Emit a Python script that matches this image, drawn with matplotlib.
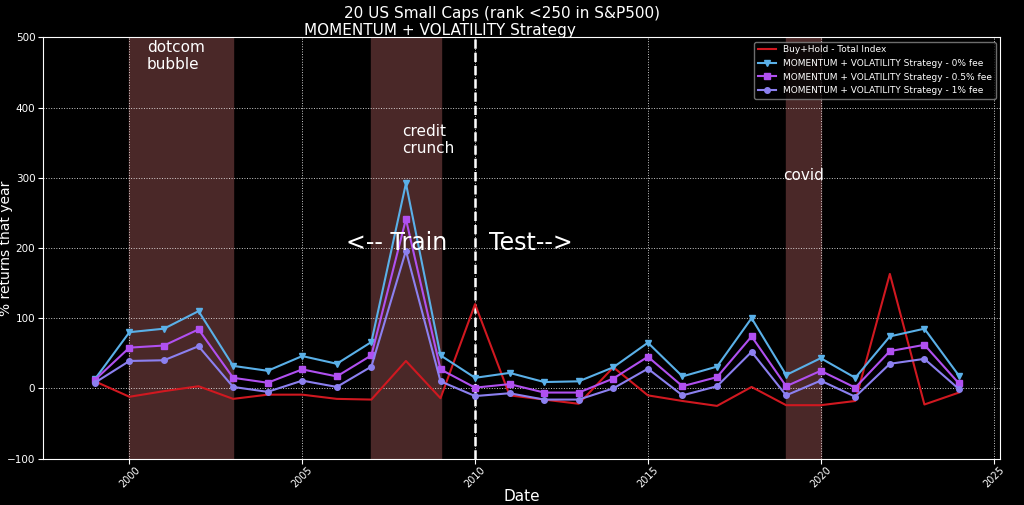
import matplotlib
matplotlib.use('Agg')
import matplotlib.pyplot as plt

# data
years = list(range(1999, 2025))
fee0 = [13, 80, 85, 110, 32, 25, 46, 35, 66, 292, 47, 15, 22, 9, 10, 30, 65, 17, 31, 100, 19, 43, 15, 74, 85, 18]
fee05 = [12, 58, 61, 84, 15, 8, 27, 17, 47, 241, 27, 1, 6, -6, -6, 14, 45, 3, 16, 74, 3, 25, 1, 53, 62, 7]
fee1 = [8, 39, 40, 60, 2, -5, 11, 2, 31, 196, 10, -11, -7, -16, -16, 0, 28, -10, 3, 52, -10, 11, -12, 35, 42, -1]
buyhold = [10, -12, -4, 3, -15, -9, -9, -15, -16, 39, -14, 120, -10, -16, -22, 30, -10, -18, -25, 2, -24, -24, -18, 163, -23, -6]
crises = [(2000, 2003), (2007, 2009), (2019, 2020)]

plt.style.use('dark_background')
fig = plt.figure(figsize=(10.24, 5.05), dpi=100)
ax = fig.add_axes([0.042, 0.092, 0.935, 0.834])
ax.set_facecolor('black')

for a, b in crises:
    ax.axvspan(a, b, color='#4a2828', zorder=0)
ax.axvline(2010, color='white', ls='--', lw=1.8)

ax.plot(years, buyhold, color='#d01820', lw=1.5, label='Buy+Hold - Total Index')
ax.plot(years, fee0, color='#5ab0e8', marker='v', ms=4, lw=1.5, label='MOMENTUM + VOLATILITY Strategy - 0% fee')
ax.plot(years, fee05, color='#b050f0', marker='s', ms=4, lw=1.5, label='MOMENTUM + VOLATILITY Strategy - 0.5% fee')
ax.plot(years, fee1, color='#8c80f0', marker='o', ms=4, lw=1.5, label='MOMENTUM + VOLATILITY Strategy - 1% fee')

ax.text(2000.5, 455, 'dotcom\nbubble', color='white', fontsize=11)
ax.text(2007.9, 335, 'credit\ncrunch', color='white', fontsize=11)
ax.text(2018.9, 297, 'covid', color='white', fontsize=11)
ax.text(2009.2, 197, '<-- Train', color='white', fontsize=17, ha='right')
ax.text(2010.4, 197, 'Test-->', color='white', fontsize=17)

ax.set_xlim(1997.5, 2025.2)
ax.set_ylim(-100, 500)
ax.set_xticks(range(2000, 2026, 5))
ax.tick_params(axis='x', labelrotation=45, labelsize=7, pad=1)
ax.tick_params(axis='y', labelsize=7.5, pad=2)
ax.grid(True, color='white', ls=':', lw=0.7, alpha=0.8)
ax.set_xlabel('Date', fontsize=11, labelpad=0)
ax.set_ylabel('% returns that year', fontsize=10)
ax.yaxis.set_label_coords(-0.031, 0.5)
fig.text(0.49, 0.965, '20 US Small Caps (rank <250 in S&P500)', ha='center', fontsize=11)
fig.text(0.43, 0.93, 'MOMENTUM + VOLATILITY Strategy', ha='center', fontsize=11)
ax.legend(loc='upper right', fontsize=6.5, facecolor='black', edgecolor='#888888')

fig.savefig('out.png', dpi=100, facecolor='black')
